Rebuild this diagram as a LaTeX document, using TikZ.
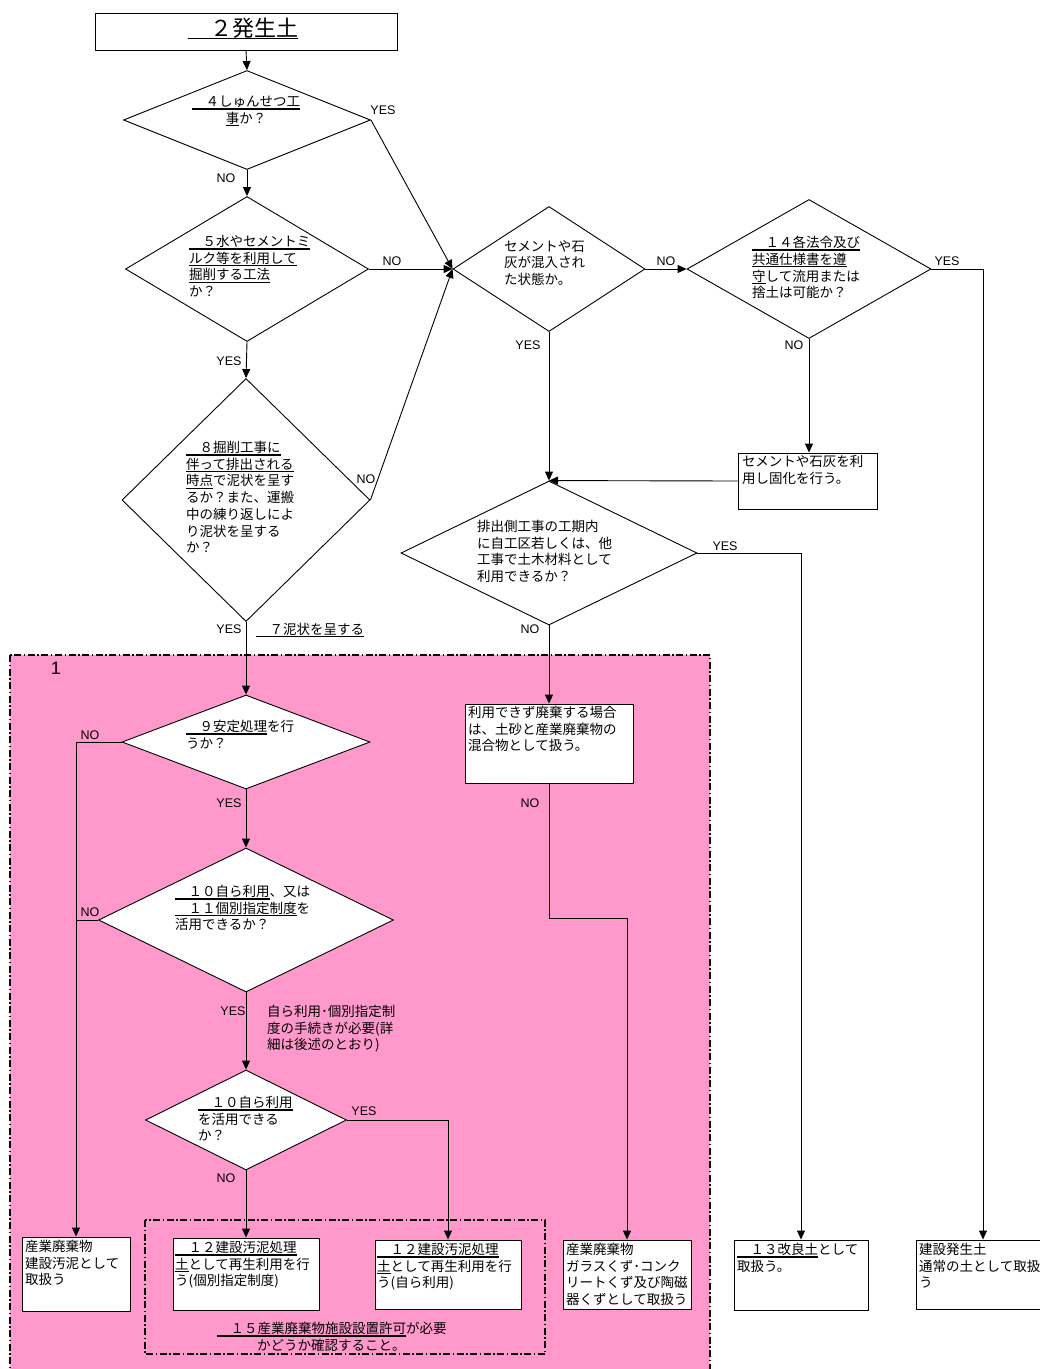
\documentclass[tikz,border=0pt]{standalone}
\usepackage{fontspec}
\setmainfont{Noto Sans CJK JP}
\newfontfamily\lat{Liberation Sans}
\usetikzlibrary{shapes.geometric,arrows.meta}
\newcommand\myul[1]{\mbox{\setbox0\hbox{#1}\rlap{\rule[-3pt]{\wd0}{1.3pt}}\box0}}
\definecolor{pinkbg}{RGB}{255,153,204}
\tikzset{
  dia/.style={draw, diamond, aspect=1, inner sep=0pt, fill=white, line width=0.9pt},
  box/.style={draw, rectangle, fill=white, inner sep=0pt, line width=0.9pt},
  txt/.style={inner sep=0pt, align=left, font=\fontsize{13.5}{16.7}\selectfont, anchor=north west},
  lbl/.style={inner sep=0pt, font=\lat\fontsize{12.5}{14}\selectfont},
  arr/.style={-{Triangle[length=9pt,width=8pt]}, line width=0.9pt},
  ln/.style={line width=0.9pt},
  dashdot/.style={line width=1.4pt, dash pattern=on 7pt off 2.5pt on 1.5pt off 2.5pt}
}
\begin{document}
\begin{tikzpicture}[x=1pt,y=-1pt]
\useasboundingbox (0,0) rectangle (1040,1369);
\fill[white] (0,0) rectangle (1040,1369);
% pink region
\fill[pinkbg] (10,655) rectangle (710,1385);
\draw[dashdot] (10,655) rectangle (710,1385);
\node[lbl, font=\lat\fontsize{18}{20}\selectfont] (one) at (56,668) {1};
\draw[dashdot] (145,1220) rectangle (545,1354);

% nodes
\node[box, minimum width=302pt, minimum height=37pt] (top) at (246,31.5) {};
\node[dia, minimum width=247pt, minimum height=99pt] (d1) at (247,120) {};
\node[dia, minimum width=243pt, minimum height=145pt] (d2) at (247,269) {};
\node[dia, minimum width=248pt, minimum height=243pt] (d3) at (246,500) {};
\node[dia, minimum width=248pt, minimum height=94pt] (d4) at (246,742) {};
\node[dia, minimum width=295pt, minimum height=144pt] (d5) at (246,920) {};
\node[dia, minimum width=201pt, minimum height=100pt] (d6) at (246,1120) {};
\node[dia, minimum width=192pt, minimum height=125pt] (d7) at (549,269) {};
\node[dia, minimum width=244pt, minimum height=139pt] (d8) at (809,269) {};
\node[dia, minimum width=296pt, minimum height=144pt] (d9) at (549,553) {};

\node[box, minimum width=139pt, minimum height=56pt] (b4) at (807.5,481) {};
\node[box, minimum width=168pt, minimum height=79pt] (b5) at (549,743.5) {};
\node[box, minimum width=108pt, minimum height=74pt] (b1) at (76,1274) {};
\node[box, minimum width=146pt, minimum height=72pt] (b2) at (246,1274) {};
\node[box, minimum width=146pt, minimum height=69pt] (b3) at (448,1274.5) {};
\node[box, minimum width=128pt, minimum height=69pt] (b8) at (627,1274.5) {};
\node[box, minimum width=134pt, minimum height=70pt] (b6) at (801,1275) {};
\node[box, minimum width=134pt, minimum height=69pt] (b7) at (983,1274.5) {};
\coordinate (k1) at (549,918);

% connectors
\draw[arr] (top.south) -- (d1.north);
\draw[arr] (d1.east) -- (d7.west);
\draw[arr] (d1.south) -- (d2.north);
\draw[arr] (d2.east) -- (d7.west);
\draw[arr] (d2.south) -- (d3.north);
\draw[arr] (d3.east) -- (d7.west);
\draw[arr] (d3.south) -- (d4.north);
\draw[arr] (d4.west) -| (b1.north);
\draw[ln] (d5.west) -- (d5.west -| b1.north);
\draw[arr] (d4.south) -- (d5.north);
\draw[arr] (d5.south) -- (d6.north);
\draw[arr] (d6.south) -- (b2.north);
\draw[arr] (d6.east) -| (b3.north);
\draw[arr] (d7.east) -- (d8.west);
\draw[arr] (d8.east) -| (b7.north);
\draw[arr] (d8.south) -- (d8.south |- b4.north);
\draw[arr] (b4.west) -- (d9.north);
\draw[arr] (d7.south) -- (d9.north);
\draw[arr] (d9.east) -| (b6.north);
\draw[arr] (d9.south) -- (b5.north);
\draw[arr] (b5.south) -- (k1) -| (b8.north);

% labels
\node[lbl] (l1) at (383,110) {YES};
\node[lbl] (l2) at (226,178) {NO};
\node[lbl] (l3) at (392,261) {NO};
\node[lbl] (l4) at (229,361) {YES};
\node[lbl] (l5) at (366,479) {NO};
\node[lbl] (l6) at (229,629) {YES};
\node[lbl] (l7) at (90,735) {NO};
\node[lbl] (l8) at (229,803) {YES};
\node[lbl] (l9) at (90,912) {NO};
\node[lbl] (l10) at (233,1011) {YES};
\node[lbl] (l11) at (364,1111) {YES};
\node[lbl] (l12) at (226,1178) {NO};
\node[lbl] (l13) at (528,345) {YES};
\node[lbl] (l14) at (666,261) {NO};
\node[lbl] (l15) at (947,261) {YES};
\node[lbl] (l16) at (794,345) {NO};
\node[lbl] (l17) at (725,546) {YES};
\node[lbl] (l18) at (530,629) {NO};
\node[lbl] (l19) at (530,803) {NO};

% texts
\node[txt, anchor=base west, font=\fontsize{22}{24}\selectfont] (ttop) at (188,36) {\myul{　２発生土}};
\node[txt, anchor=north, align=center] (t1) at (246,96) {\myul{　４しゅんせつ工}\\\myul{事}か？};
\node[txt] (t2) at (189,235) {\myul{　５水やセメントミ}\\\myul{ルク等を利用して}\\\myul{掘削する工法}\\か？};
\node[txt] (t3) at (186,441) {\myul{　８掘削工事に}\\\myul{伴って排出される}\\\myul{時点}で泥状を呈す\\るか？また、運搬\\中の練り返しによ\\り泥状を呈する\\か？};
\node[txt, anchor=base west] (t7a) at (256,634) {\myul{　７泥状を呈する}};
\node[txt] (t4) at (186,720) {\myul{　９安定処理}を行\\うか？};
\node[txt] (t5) at (175,885) {\myul{　１０自ら利用}、又は\\\myul{　１１個別指定制度}を\\活用できるか？};
\node[txt] (tn) at (267,1005) {自ら利用･個別指定制\\度の手続きが必要(詳\\細は後述のとおり)};
\node[txt] (t6) at (198,1096) {\myul{　１０自ら利用}\\を活用できる\\か？};
\node[txt] (t7) at (504,240) {セメントや石\\灰が混入され\\た状態か。};
\node[txt] (t8) at (752,236) {\myul{　１４各法令及び}\\\myul{共通仕様書を遵}\\\myul{守}して流用または\\捨土は可能か？};
\node[txt] (t9) at (477,520) {排出側工事の工期内\\に自工区若しくは、他\\工事で土木材料として\\利用できるか？};
\node[txt] (tb4) at (742,455) {セメントや石灰を利\\用し固化を行う。};
\node[txt] (tb5) at (468,706) {利用できず廃棄する場合\\は、土砂と産業廃棄物の\\混合物として扱う。};
\node[txt] (tb1) at (25,1240) {産業廃棄物\\建設汚泥として\\取扱う};
\node[txt] (tb2) at (175,1241) {\myul{　１２建設汚泥処理}\\\myul{土}として再生利用を行\\う(個別指定制度)};
\node[txt] (tb3) at (377,1243) {\myul{　１２建設汚泥処理}\\\myul{土}として再生利用を行\\う(自ら利用)};
\node[txt] (tb8) at (566,1243) {産業廃棄物\\ガラスくず･コンク\\リートくず及び陶磁\\器くずとして取扱う};
\node[txt] (tb6) at (737,1243) {\myul{　１３改良土}として\\取扱う。};
\node[txt] (tb7) at (919,1243) {建設発生土\\通常の土として取扱\\う};
\node[txt] (t15) at (217,1322) {\myul{　１５産業廃棄物施設設置許可}が必要\\\hspace{40pt}かどうか確認すること。};
\end{tikzpicture}
\end{document}
